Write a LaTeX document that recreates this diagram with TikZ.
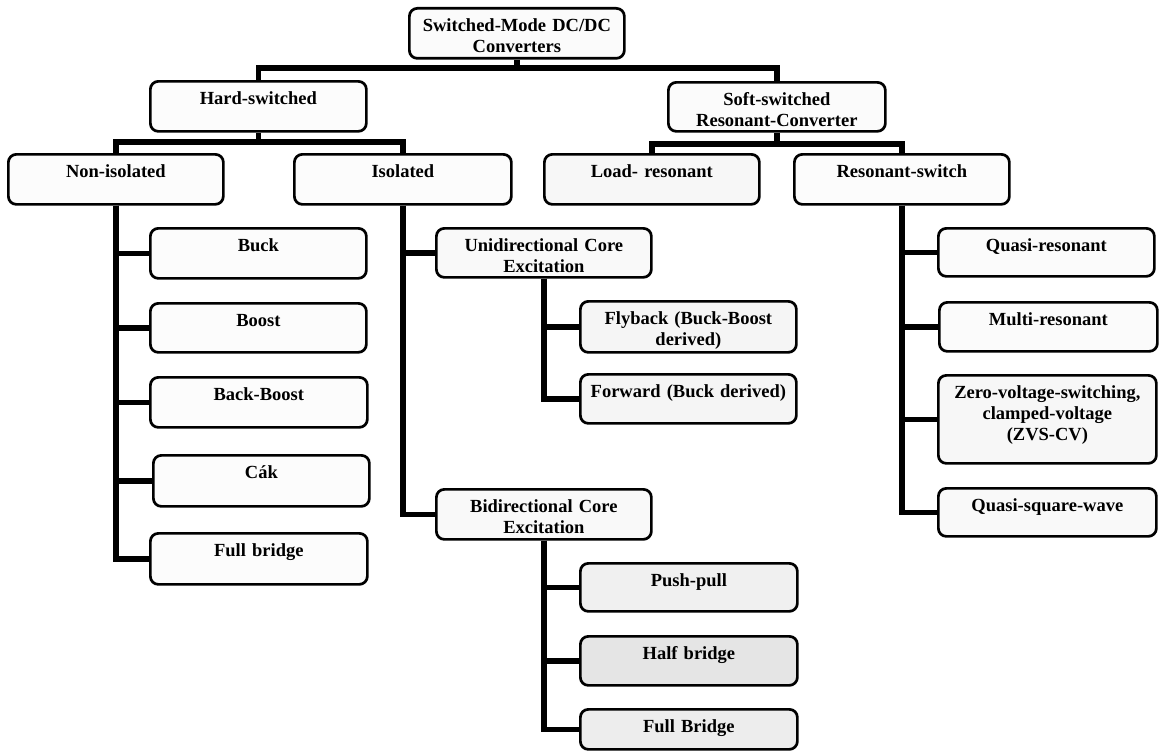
\documentclass[tikz,border=0pt]{standalone}
\usepackage{fontspec}
\setmainfont{Liberation Serif}
\usetikzlibrary{calc}
\tikzset{
  box/.style={draw, line width=2.7pt, rounded corners=8pt, anchor=north west,
    inner xsep=3pt, inner ysep=0pt, align=center,
    font=\fontsize{18.5}{21}\selectfont\bfseries, text height=23pt},
  conn/.style={line width=5.5pt, line join=miter},
}
\newcommand\mkbox[7][white]{%
  \pgfmathsetmacro\bw{#5-#3-6}%
  \pgfmathsetmacro\bd{#6-#4-23}%
  \node[box, fill=#1, text width=\bw pt, text depth=\bd pt] (#2) at (#3,#4) {#7};}
\begin{document}
\begin{tikzpicture}[x=1pt,y=-1pt]
\useasboundingbox (0,0) rectangle (1159,752);
% boxes
\mkbox[gray!3]{root}{408}{7}{623}{57}{Switched-Mode DC/DC\\Converters}
\mkbox[gray!2]{hard}{149}{80}{365}{130}{Hard-switched}
\mkbox[gray!3]{soft}{667}{81}{884}{130}{Soft-switched\\Resonant-Converter}
\mkbox[gray!2]{nonisol}{7}{153}{222}{203}{Non-isolated}
\mkbox[gray!2]{isol}{293}{153}{510}{203}{Isolated}
\mkbox[gray!6]{load}{543}{153}{758}{203}{Load- resonant}
\mkbox[gray!2]{resw}{793}{153}{1008}{203}{Resonant-switch}
\mkbox[gray!2]{buck}{149}{227}{365}{277}{Buck}
\mkbox[gray!2]{boost}{149}{302}{365}{351}{Boost}
\mkbox[gray!2]{backboost}{149}{376}{366}{426}{Back-Boost}
\mkbox[gray!2]{cak}{152}{454}{368}{505}{Cák}
\mkbox[gray!2]{fbone}{149}{532}{366}{583}{Full bridge}
\mkbox[gray!5]{unidir}{435}{227}{650}{276}{Unidirectional Core\\Excitation}
\mkbox[gray!8]{flyback}{579}{300}{795}{351}{Flyback (Buck-Boost\\derived)}
\mkbox[gray!8]{forward}{579}{373}{795}{422}{Forward (Buck derived)}
\mkbox[gray!5]{bidir}{435}{488}{650}{538}{Bidirectional Core\\Excitation}
\mkbox[gray!12]{pushpull}{579}{562}{796}{610}{Push-pull}
\mkbox[gray!20]{halfbridge}{579}{635}{796}{684}{Half bridge}
\mkbox[gray!14]{fbtwo}{579}{708}{796}{748}{Full Bridge}
\mkbox[gray!3]{quasires}{937}{227}{1153}{275}{Quasi-resonant}
\mkbox[gray!3]{multires}{938}{301}{1156}{350}{Multi-resonant}
\mkbox[gray!6]{zvs}{937}{374}{1155}{462}{Zero-voltage-switching,\\clamped-voltage\\(ZVS-CV)}
\mkbox[gray!5]{quasisq}{937}{487}{1155}{535}{Quasi-square-wave}
% bars
\coordinate (b0) at (0,68);
\coordinate (b1) at (0,142);
\coordinate (b2) at (0,144);
\draw[conn] (root.south) -- (root.south |- b0);
\draw[conn] (hard.north) |- (b0 -| soft.north) -- (soft.north);
\draw[conn] (hard.south) -- (hard.south |- b1);
\draw[conn] (nonisol.north) |- (b1 -| isol.north) -- (isol.north);
\draw[conn] (soft.south) -- (soft.south |- b2);
\draw[conn] (load.north) |- (b2 -| resw.north) -- (resw.north);
% trunks
\foreach \c in {buck,boost,backboost,cak,fbone}
  \draw[conn] (nonisol.south) |- (\c.west);
\foreach \c in {unidir,bidir}
  \draw[conn] (isol.south) |- (\c.west);
\foreach \c in {flyback,forward}
  \draw[conn] (unidir.south) |- (\c.west);
\foreach \c in {pushpull,halfbridge,fbtwo}
  \draw[conn] (bidir.south) |- (\c.west);
\foreach \c in {quasires,multires,zvs,quasisq}
  \draw[conn] (resw.south) |- (\c.west);
\end{tikzpicture}
\end{document}
